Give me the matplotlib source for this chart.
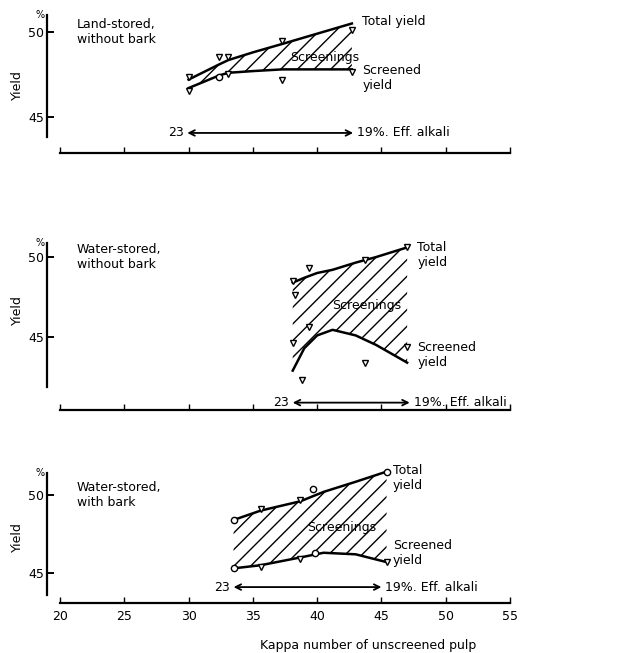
import matplotlib
matplotlib.use("Agg")
import matplotlib.pyplot as plt
import numpy as np

plt.rcParams['font.family'] = ['DejaVu Sans']
plt.rcParams['hatch.linewidth'] = 1.0

# ---- data (kappa number vs yield %) ----
panel_titles = ["Land-stored,\nwithout bark", "Water-stored,\nwithout bark", "Water-stored,\nwith bark"]

# panel 1: land-stored, without bark
land_kappa = [30.0, 32.4, 33.1, 35.0, 37.3, 40.0, 42.7]
land_total = [47.2, 48.1, 48.35, 48.8, 49.3, 49.9, 50.5]
land_screened = [46.7, 47.45, 47.6, 47.7, 47.8, 47.8, 47.8]
land_tri_x = [30.0, 30.0, 32.4, 33.1, 33.1, 37.3, 37.3, 42.7, 42.7]
land_tri_y = [47.35, 46.5, 48.5, 48.5, 47.5, 49.45, 47.2, 50.1, 47.65]
land_circ_x = [32.4]
land_circ_y = [47.35]
land_arrow = (29.9, 42.8, 44.06)

# panel 2: water-stored, without bark
wnb_kappa = [38.1, 39.0, 40.0, 41.2, 43.0, 44.6, 47.0]
wnb_total = [48.4, 48.7, 49.0, 49.2, 49.65, 50.0, 50.6]
wnb_screened = [42.9, 44.3, 45.1, 45.45, 45.1, 44.5, 43.4]
wnb_tri_x = [38.1, 38.3, 39.4, 43.7, 47.0, 38.1, 39.4, 38.8, 43.7, 47.0]
wnb_tri_y = [48.5, 47.6, 49.3, 49.8, 50.6, 44.6, 45.6, 42.3, 43.4, 44.4]
wnb_circ_x = []
wnb_circ_y = []
wnb_arrow = (38.1, 47.2, 40.9)

# panel 3: water-stored, with bark
wb_kappa = [33.5, 35.6, 38.7, 40.5, 43.0, 45.4]
wb_total = [48.4, 49.0, 49.6, 50.2, 50.85, 51.5]
wb_screened = [45.3, 45.5, 46.0, 46.3, 46.2, 45.7]
wb_tri_x = [35.6, 38.7, 35.6, 38.7, 45.4]
wb_tri_y = [49.1, 49.7, 45.4, 45.9, 45.7]
wb_circ_x = [33.5, 45.4, 39.7, 33.5, 39.8]
wb_circ_y = [48.4, 51.5, 50.4, 45.3, 46.3]
wb_arrow = (33.5, 45.0, 44.1)

x_ticks = [20, 25, 30, 35, 40, 45, 50, 55]
y_ticks = [45, 50]

W, H = 632, 653
fig = plt.figure(figsize=(W / 100, H / 100), dpi=100)

def make_axes(xaxis_px, top_px, ylim, spine_bounds):
    ax = fig.add_axes([60 / W, 1 - xaxis_px / H, 450 / W, (xaxis_px - top_px) / H])
    ax.set_xlim(20, 55)
    ax.set_ylim(*ylim)
    ax.spines['top'].set_visible(False)
    ax.spines['right'].set_visible(False)
    ax.spines['left'].set_position(('data', 19.0))
    ax.spines['left'].set_bounds(*spine_bounds)
    ax.spines['bottom'].set_bounds(20, 55)
    for s in ('left', 'bottom'):
        ax.spines[s].set_linewidth(1.6)
    ax.set_xticks(x_ticks)
    ax.set_yticks(y_ticks)
    ax.tick_params(axis='x', direction='in', length=4, width=1.0, labelbottom=False)
    ax.tick_params(axis='y', direction='in', length=5, width=1.4, labelsize=9, pad=2)
    ax.patch.set_visible(False)
    ax.text(18.8, spine_bounds[1], "%", ha='right', va='center', fontsize=7)
    return ax

panels = [
    (153, 15, (42.88, 51.0), (43.8, 51.0), land_kappa, land_total, land_screened,
     land_tri_x, land_tri_y, land_circ_x, land_circ_y, land_arrow),
    (410, 243, (40.44, 50.875), (41.9, 50.875), wnb_kappa, wnb_total, wnb_screened,
     wnb_tri_x, wnb_tri_y, wnb_circ_x, wnb_circ_y, wnb_arrow),
    (603, 466, (43.08, 51.86), (43.6, 51.4), wb_kappa, wb_total, wb_screened,
     wb_tri_x, wb_tri_y, wb_circ_x, wb_circ_y, wb_arrow),
]
yield_label_px = [85, 310, 537]

for i, (xpx, tpx, ylim, sb, k, tot, scr, tx, ty, cx, cy, arr) in enumerate(panels):
    ax = make_axes(xpx, tpx, ylim, sb)
    ax.fill_between(k, scr, tot, facecolor='none', edgecolor='black', hatch='//', linewidth=0)
    ax.plot(k, tot, color='black', lw=1.8)
    ax.plot(k, scr, color='black', lw=1.8)
    ax.plot(tx, ty, 'v', ms=5, mfc='white', mec='black', mew=1.0, ls='none')
    ax.plot(cx, cy, 'o', ms=4.5, mfc='white', mec='black', mew=1.0, ls='none')

    x0, x1, ya = arr
    ax.annotate('', xy=(x1, ya), xytext=(x0, ya),
                arrowprops=dict(arrowstyle='<->', lw=1.3, color='black',
                                shrinkA=0, shrinkB=0))
    ax.text(x0 - 0.3, ya, "23", ha='right', va='center', fontsize=9)
    ax.text(x1 + 0.3, ya, "19%. Eff. alkali", ha='left', va='center', fontsize=9)

    ax.text(21.3, 50.0, panel_titles[i], ha='left', va='center', fontsize=9, linespacing=1.25)

    if i == 0:
        ax.text(43.5, 50.6, "Total yield", ha='left', va='center', fontsize=9)
        ax.text(43.5, 47.3, "Screened\nyield", ha='left', va='center', fontsize=9)
        ax.text(37.9, 48.5, "Screenings", ha='left', va='center', fontsize=9)
    elif i == 1:
        ax.text(47.8, 50.1, "Total\nyield", ha='left', va='center', fontsize=9)
        ax.text(47.8, 43.9, "Screened\nyield", ha='left', va='center', fontsize=9)
        ax.text(41.2, 47.0, "Screenings", ha='left', va='center', fontsize=9)
    else:
        ax.text(45.9, 51.1, "Total\nyield", ha='left', va='center', fontsize=9)
        ax.text(45.9, 46.3, "Screened\nyield", ha='left', va='center', fontsize=9)
        ax.text(39.2, 47.9, "Screenings", ha='left', va='center', fontsize=9)
        ax.tick_params(axis='x', labelbottom=True, labelsize=9, pad=5)
        ax.set_xlabel("Kappa number of unscreened pulp", fontsize=9)
        ax.xaxis.set_label_coords(0.684, -0.26)

    fig.text(17 / W, 1 - yield_label_px[i] / H, "Yield", rotation=90,
             ha='center', va='center', fontsize=9)

fig.savefig("out.png", dpi=100)
